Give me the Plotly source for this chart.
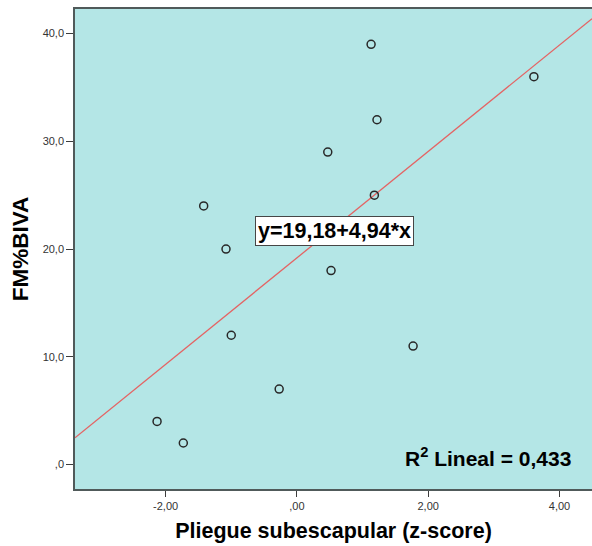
import plotly.graph_objects as go

# Data
x_vals = [1.13, 3.61, 1.22, 0.47, 1.18, -1.42, -1.08, 0.52, -1.00, 1.77, -0.27, -2.13, -1.73]
y_vals = [39, 36, 32, 29, 25, 24, 20, 18, 12, 11, 7, 4, 2]
intercept = 19.18
slope = 4.94
r2 = "0,433"

x_ticks = [-2, 0, 2, 4]
x_tick_labels = ["-2,00", ",00", "2,00", "4,00"]
y_ticks = [0, 10, 20, 30, 40]
y_tick_labels = [",0", "10,0", "20,0", "30,0", "40,0"]

x_range = [-3.38, 4.495]
y_range = [-2.27, 42.28]

fig = go.Figure()

line_x = list(x_range)
line_y = [intercept + slope * v for v in line_x]
fig.add_trace(go.Scatter(x=line_x, y=line_y, mode="lines",
                         line=dict(color="rgb(228,100,100)", width=1.3),
                         hoverinfo="skip", showlegend=False, cliponaxis=True))

fig.add_trace(go.Scatter(x=x_vals, y=y_vals, mode="markers",
                         marker=dict(symbol="circle-open", size=8,
                                     color="rgb(40,40,40)", line=dict(width=1.5)),
                         showlegend=False))

FONT = "Liberation Sans, Arial, sans-serif"
axis_font = dict(family=FONT, size=11, color="#333")

plot_w = 592 - 75
plot_h = 546 - 9 - 57

fig.update_layout(
    width=592, height=546,
    margin=dict(l=75, r=0, t=9, b=57),
    paper_bgcolor="white",
    plot_bgcolor="rgb(180,230,230)",
    xaxis=dict(range=x_range, tickvals=x_ticks, ticktext=x_tick_labels,
               showgrid=False, zeroline=False, showline=True, mirror=True,
               linecolor="rgb(80,90,90)", linewidth=1.5,
               ticks="outside", ticklen=6, tickcolor="rgb(60,60,60)",
               tickfont=axis_font,
               title=dict(text="<b>Pliegue subescapular (z-score)</b>",
                          font=dict(family=FONT, size=21.5, color="#000"), standoff=12)),
    yaxis=dict(range=y_range, tickvals=y_ticks, ticktext=y_tick_labels,
               showgrid=False, zeroline=False, showline=True, mirror=False,
               linecolor="rgb(80,90,90)", linewidth=1.5,
               ticks="outside", ticklen=7, tickcolor="rgb(60,60,60)",
               tickfont=axis_font,
               title=dict(text="<b>FM%BIVA</b>",
                          font=dict(family=FONT, size=22.5, color="#000"), standoff=8)),
    annotations=[
        dict(x=0.567, y=21.64, xref="x", yref="y", xanchor="center", yanchor="middle",
             text="<b>y=19,18+4,94*x</b>", showarrow=False,
             font=dict(family=FONT, size=21.5, color="#000"),
             bgcolor="white", bordercolor="rgb(70,70,70)", borderwidth=1, borderpad=2),
        dict(x=(488 - 75) / plot_w, y=(546 - 57 - 457) / plot_h,
             xref="paper", yref="paper", xanchor="center", yanchor="middle",
             text="<b>R<sup>2</sup> Lineal = " + r2 + "</b>", showarrow=False,
             font=dict(family=FONT, size=21, color="#000")),
    ],
)

fig.write_html("out.html")
